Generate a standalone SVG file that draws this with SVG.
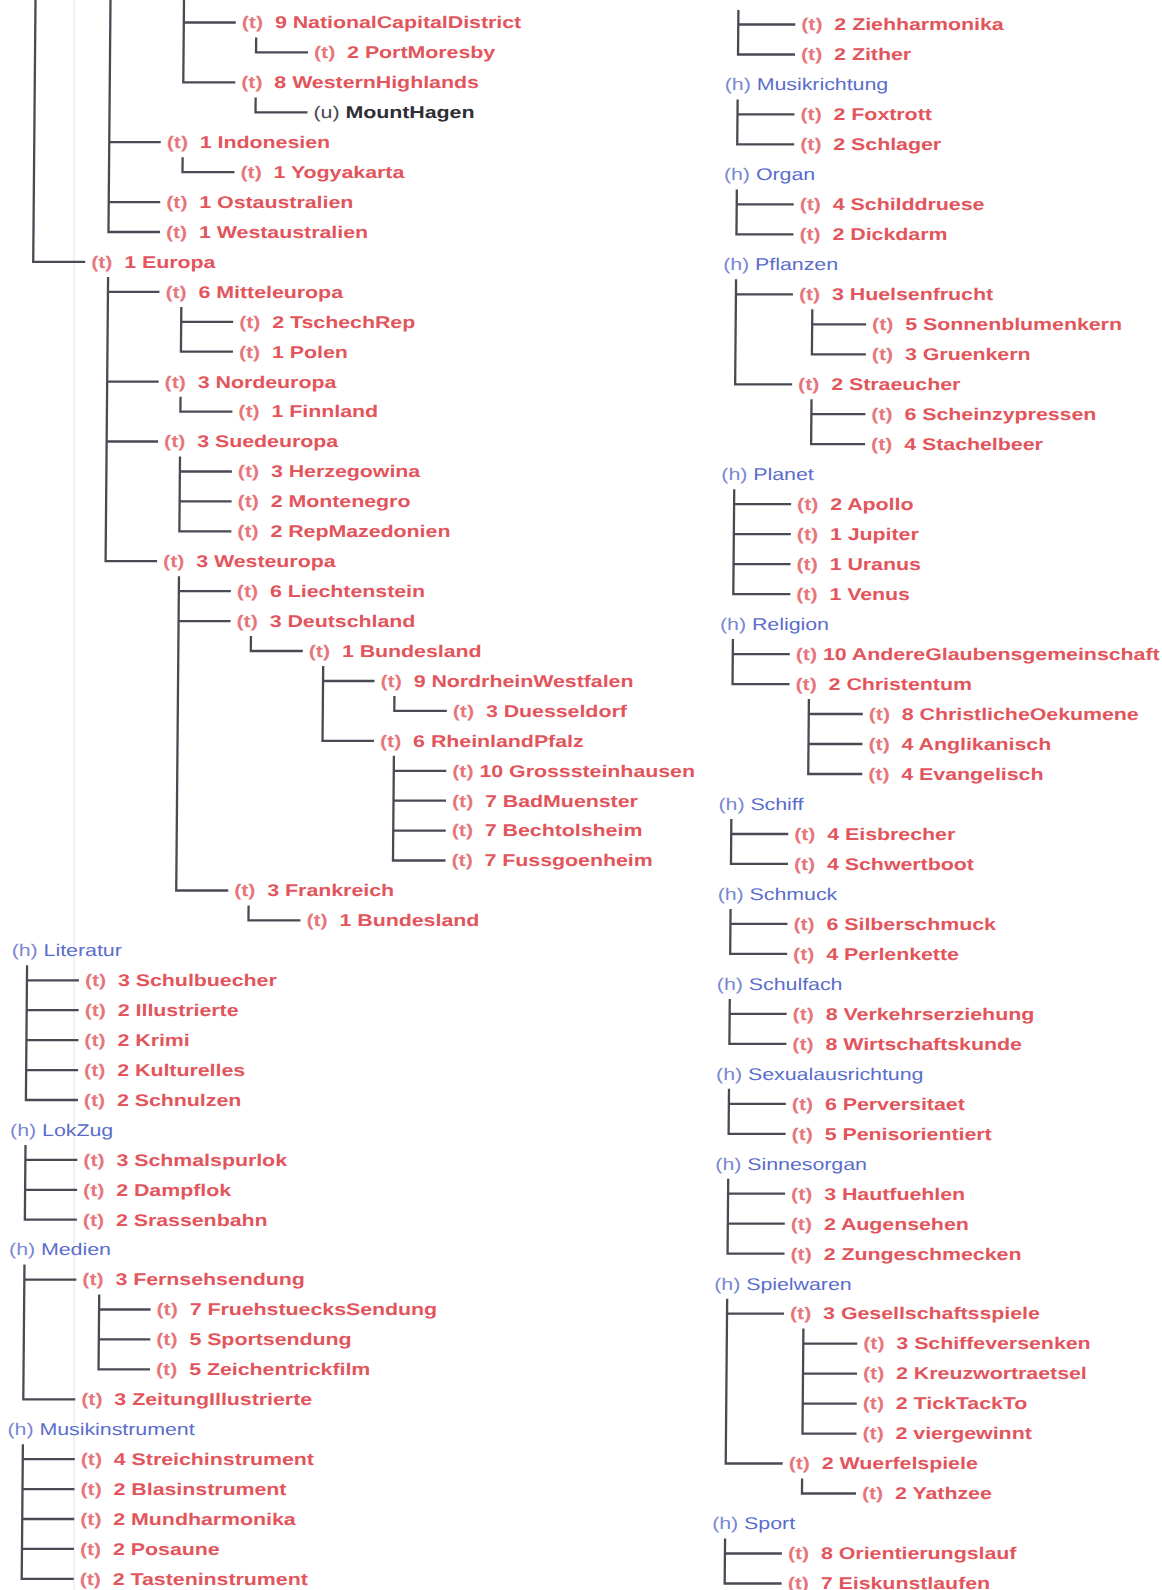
<svg xmlns="http://www.w3.org/2000/svg" width="1162" height="1590" viewBox="0 0 1162 1590" xml:space="preserve">
<style>
.c path{fill:none;stroke:#4a4a54;stroke-width:2.3}
text{font-family:"Liberation Sans",Arial,sans-serif;font-size:17px;transform:scale(1.255,1);white-space:pre}
.t text{font-weight:bold;fill:#e2555c}
.t .p{fill:#e6767c}
.h text{fill:#5a6dcb}
.h .p{fill:#7887d2}
.u text{font-weight:bold;fill:#2e2e33}
.u .p{font-weight:normal;fill:#4a4a50}
</style>
<rect width="1162" height="1590" fill="#ffffff"/>
<line x1="74" y1="0" x2="74" y2="1590" stroke="#e2e2ea" stroke-width="1"/>
<g transform="skewX(-0.5)">
<g id="connectors" class="c">
<path d="M35.5 0V261.9H87.5"/>
<path d="M110.5 0V232H162M110.5 142.2H162M110.5 202.1H162"/>
<path d="M184 0V82.4H236M184 22.5H236"/>
<path d="M256.5 37.5V52.4H308.5"/>
<path d="M256.5 97.4V112.3H308.5"/>
<path d="M184 157.2V172.2H236"/>
<path d="M110.5 276.9V561.2H162M110.5 291.9H162M110.5 381.7H162M110.5 441.5H162"/>
<path d="M184 306.9V351.7H236M184 321.8H236"/>
<path d="M184 396.7V411.6H236"/>
<path d="M184 456.5V531.3H236M184 471.5H236M184 501.4H236"/>
<path d="M184 576.2V890.5H236M184 591.2H236M184 621.1H236"/>
<path d="M256.5 636.1V651H308.5"/>
<path d="M329 666V740.8H380.5M329 681H380.5"/>
<path d="M400.5 696V710.9H453"/>
<path d="M400.5 755.8V860.5H453M400.5 770.8H453M400.5 800.7H453M400.5 830.6H453"/>
<path d="M256.5 905.5V920.4H308.5"/>
<path d="M35.5 965.3V1100H87.5M35.5 980.3H87.5M35.5 1010.2H87.5M35.5 1040.1H87.5M35.5 1070.1H87.5"/>
<path d="M35.5 1144.9V1219.7H87.5M35.5 1159.8H87.5M35.5 1189.8H87.5"/>
<path d="M35.5 1264.6V1399.3H87.5M35.5 1279.6H87.5"/>
<path d="M110.5 1294.6V1369.4H162M110.5 1309.5H162M110.5 1339.4H162"/>
<path d="M35.5 1444.2V1578.9H87.5M35.5 1459.1H87.5M35.5 1489.1H87.5M35.5 1519H87.5M35.5 1548.9H87.5"/>
<path d="M738.5 10V54.5H795.5M738.5 24.5H795.5"/>
<path d="M738.5 99.5V144.4H795.5M738.5 114.4H795.5"/>
<path d="M738.5 189.4V234.4H795.5M738.5 204.4H795.5"/>
<path d="M738.5 279.3V384.3H795.5M738.5 294.3H795.5"/>
<path d="M815 309.3V354.3H869M815 324.3H869"/>
<path d="M815 399.3V444.2H869M815 414.2H869"/>
<path d="M738.5 489.2V594.1H795.5M738.5 504.2H795.5M738.5 534.2H795.5M738.5 564.1H795.5"/>
<path d="M738.5 639.1V684.1H795.5M738.5 654.1H795.5"/>
<path d="M815 699.1V774H869M815 714H869M815 744H869"/>
<path d="M738.5 819V863.9H795.5M738.5 834H795.5"/>
<path d="M738.5 908.9V953.9H795.5M738.5 923.9H795.5"/>
<path d="M738.5 998.9V1043.8H795.5M738.5 1013.8H795.5"/>
<path d="M738.5 1088.8V1133.8H795.5M738.5 1103.8H795.5"/>
<path d="M738.5 1178.7V1253.7H795.5M738.5 1193.7H795.5M738.5 1223.7H795.5"/>
<path d="M738.5 1298.7V1463.5H795.5M738.5 1313.6H795.5"/>
<path d="M815 1328.6V1433.6H869M815 1343.6H869M815 1373.6H869M815 1403.6H869"/>
<path d="M815 1478.5V1493.5H869"/>
<path d="M738.5 1538.5V1583.5H795.5M738.5 1553.5H795.5"/>
</g>
<g id="l0" class="t" transform="translate(242,28.3)"><text><tspan class="p">(t)</tspan>  9 NationalCapitalDistrict</text></g>
<g id="l1" class="t" transform="translate(314.5,58.2)"><text><tspan class="p">(t)</tspan>  2 PortMoresby</text></g>
<g id="l2" class="t" transform="translate(242,88.2)"><text><tspan class="p">(t)</tspan>  8 WesternHighlands</text></g>
<g id="l3" class="u" transform="translate(314.5,118.1)"><text><tspan class="p">(u)</tspan> MountHagen</text></g>
<g id="l4" class="t" transform="translate(168,148)"><text><tspan class="p">(t)</tspan>  1 Indonesien</text></g>
<g id="l5" class="t" transform="translate(242,178)"><text><tspan class="p">(t)</tspan>  1 Yogyakarta</text></g>
<g id="l6" class="t" transform="translate(168,207.9)"><text><tspan class="p">(t)</tspan>  1 Ostaustralien</text></g>
<g id="l7" class="t" transform="translate(168,237.8)"><text><tspan class="p">(t)</tspan>  1 Westaustralien</text></g>
<g id="l8" class="t" transform="translate(93.5,267.7)"><text><tspan class="p">(t)</tspan>  1 Europa</text></g>
<g id="l9" class="t" transform="translate(168,297.7)"><text><tspan class="p">(t)</tspan>  6 Mitteleuropa</text></g>
<g id="l10" class="t" transform="translate(242,327.6)"><text><tspan class="p">(t)</tspan>  2 TschechRep</text></g>
<g id="l11" class="t" transform="translate(242,357.5)"><text><tspan class="p">(t)</tspan>  1 Polen</text></g>
<g id="l12" class="t" transform="translate(168,387.5)"><text><tspan class="p">(t)</tspan>  3 Nordeuropa</text></g>
<g id="l13" class="t" transform="translate(242,417.4)"><text><tspan class="p">(t)</tspan>  1 Finnland</text></g>
<g id="l14" class="t" transform="translate(168,447.3)"><text><tspan class="p">(t)</tspan>  3 Suedeuropa</text></g>
<g id="l15" class="t" transform="translate(242,477.3)"><text><tspan class="p">(t)</tspan>  3 Herzegowina</text></g>
<g id="l16" class="t" transform="translate(242,507.2)"><text><tspan class="p">(t)</tspan>  2 Montenegro</text></g>
<g id="l17" class="t" transform="translate(242,537.1)"><text><tspan class="p">(t)</tspan>  2 RepMazedonien</text></g>
<g id="l18" class="t" transform="translate(168,567)"><text><tspan class="p">(t)</tspan>  3 Westeuropa</text></g>
<g id="l19" class="t" transform="translate(242,597)"><text><tspan class="p">(t)</tspan>  6 Liechtenstein</text></g>
<g id="l20" class="t" transform="translate(242,626.9)"><text><tspan class="p">(t)</tspan>  3 Deutschland</text></g>
<g id="l21" class="t" transform="translate(314.5,656.8)"><text><tspan class="p">(t)</tspan>  1 Bundesland</text></g>
<g id="l22" class="t" transform="translate(386.5,686.8)"><text><tspan class="p">(t)</tspan>  9 NordrheinWestfalen</text></g>
<g id="l23" class="t" transform="translate(459,716.7)"><text><tspan class="p">(t)</tspan>  3 Duesseldorf</text></g>
<g id="l24" class="t" transform="translate(386.5,746.6)"><text><tspan class="p">(t)</tspan>  6 RheinlandPfalz</text></g>
<g id="l25" class="t" transform="translate(459,776.6)"><text><tspan class="p">(t)</tspan> 10 Grosssteinhausen</text></g>
<g id="l26" class="t" transform="translate(459,806.5)"><text><tspan class="p">(t)</tspan>  7 BadMuenster</text></g>
<g id="l27" class="t" transform="translate(459,836.4)"><text><tspan class="p">(t)</tspan>  7 Bechtolsheim</text></g>
<g id="l28" class="t" transform="translate(459,866.3)"><text><tspan class="p">(t)</tspan>  7 Fussgoenheim</text></g>
<g id="l29" class="t" transform="translate(242,896.3)"><text><tspan class="p">(t)</tspan>  3 Frankreich</text></g>
<g id="l30" class="t" transform="translate(314.5,926.2)"><text><tspan class="p">(t)</tspan>  1 Bundesland</text></g>
<g id="l31" class="h" transform="translate(20,956.1)"><text><tspan class="p">(h)</tspan> Literatur</text></g>
<g id="l32" class="t" transform="translate(93.5,986.1)"><text><tspan class="p">(t)</tspan>  3 Schulbuecher</text></g>
<g id="l33" class="t" transform="translate(93.5,1016)"><text><tspan class="p">(t)</tspan>  2 Illustrierte</text></g>
<g id="l34" class="t" transform="translate(93.5,1045.9)"><text><tspan class="p">(t)</tspan>  2 Krimi</text></g>
<g id="l35" class="t" transform="translate(93.5,1075.9)"><text><tspan class="p">(t)</tspan>  2 Kulturelles</text></g>
<g id="l36" class="t" transform="translate(93.5,1105.8)"><text><tspan class="p">(t)</tspan>  2 Schnulzen</text></g>
<g id="l37" class="h" transform="translate(20,1135.7)"><text><tspan class="p">(h)</tspan> LokZug</text></g>
<g id="l38" class="t" transform="translate(93.5,1165.6)"><text><tspan class="p">(t)</tspan>  3 Schmalspurlok</text></g>
<g id="l39" class="t" transform="translate(93.5,1195.6)"><text><tspan class="p">(t)</tspan>  2 Dampflok</text></g>
<g id="l40" class="t" transform="translate(93.5,1225.5)"><text><tspan class="p">(t)</tspan>  2 Srassenbahn</text></g>
<g id="l41" class="h" transform="translate(20,1255.4)"><text><tspan class="p">(h)</tspan> Medien</text></g>
<g id="l42" class="t" transform="translate(93.5,1285.4)"><text><tspan class="p">(t)</tspan>  3 Fernsehsendung</text></g>
<g id="l43" class="t" transform="translate(168,1315.3)"><text><tspan class="p">(t)</tspan>  7 FruehstuecksSendung</text></g>
<g id="l44" class="t" transform="translate(168,1345.2)"><text><tspan class="p">(t)</tspan>  5 Sportsendung</text></g>
<g id="l45" class="t" transform="translate(168,1375.2)"><text><tspan class="p">(t)</tspan>  5 Zeichentrickfilm</text></g>
<g id="l46" class="t" transform="translate(93.5,1405.1)"><text><tspan class="p">(t)</tspan>  3 ZeitungIllustrierte</text></g>
<g id="l47" class="h" transform="translate(20,1435)"><text><tspan class="p">(h)</tspan> Musikinstrument</text></g>
<g id="l48" class="t" transform="translate(93.5,1464.9)"><text><tspan class="p">(t)</tspan>  4 Streichinstrument</text></g>
<g id="l49" class="t" transform="translate(93.5,1494.9)"><text><tspan class="p">(t)</tspan>  2 Blasinstrument</text></g>
<g id="l50" class="t" transform="translate(93.5,1524.8)"><text><tspan class="p">(t)</tspan>  2 Mundharmonika</text></g>
<g id="l51" class="t" transform="translate(93.5,1554.7)"><text><tspan class="p">(t)</tspan>  2 Posaune</text></g>
<g id="l52" class="t" transform="translate(93.5,1584.7)"><text><tspan class="p">(t)</tspan>  2 Tasteninstrument</text></g>
<g id="r0" class="t" transform="translate(801.5,30.3)"><text><tspan class="p">(t)</tspan>  2 Ziehharmonika</text></g>
<g id="r1" class="t" transform="translate(801.5,60.3)"><text><tspan class="p">(t)</tspan>  2 Zither</text></g>
<g id="r2" class="h" transform="translate(725.5,90.3)"><text><tspan class="p">(h)</tspan> Musikrichtung</text></g>
<g id="r3" class="t" transform="translate(801.5,120.2)"><text><tspan class="p">(t)</tspan>  2 Foxtrott</text></g>
<g id="r4" class="t" transform="translate(801.5,150.2)"><text><tspan class="p">(t)</tspan>  2 Schlager</text></g>
<g id="r5" class="h" transform="translate(725.5,180.2)"><text><tspan class="p">(h)</tspan> Organ</text></g>
<g id="r6" class="t" transform="translate(801.5,210.2)"><text><tspan class="p">(t)</tspan>  4 Schilddruese</text></g>
<g id="r7" class="t" transform="translate(801.5,240.2)"><text><tspan class="p">(t)</tspan>  2 Dickdarm</text></g>
<g id="r8" class="h" transform="translate(725.5,270.1)"><text><tspan class="p">(h)</tspan> Pflanzen</text></g>
<g id="r9" class="t" transform="translate(801.5,300.1)"><text><tspan class="p">(t)</tspan>  3 Huelsenfrucht</text></g>
<g id="r10" class="t" transform="translate(875,330.1)"><text><tspan class="p">(t)</tspan>  5 Sonnenblumenkern</text></g>
<g id="r11" class="t" transform="translate(875,360.1)"><text><tspan class="p">(t)</tspan>  3 Gruenkern</text></g>
<g id="r12" class="t" transform="translate(801.5,390.1)"><text><tspan class="p">(t)</tspan>  2 Straeucher</text></g>
<g id="r13" class="t" transform="translate(875,420)"><text><tspan class="p">(t)</tspan>  6 Scheinzypressen</text></g>
<g id="r14" class="t" transform="translate(875,450)"><text><tspan class="p">(t)</tspan>  4 Stachelbeer</text></g>
<g id="r15" class="h" transform="translate(725.5,480)"><text><tspan class="p">(h)</tspan> Planet</text></g>
<g id="r16" class="t" transform="translate(801.5,510)"><text><tspan class="p">(t)</tspan>  2 Apollo</text></g>
<g id="r17" class="t" transform="translate(801.5,540)"><text><tspan class="p">(t)</tspan>  1 Jupiter</text></g>
<g id="r18" class="t" transform="translate(801.5,569.9)"><text><tspan class="p">(t)</tspan>  1 Uranus</text></g>
<g id="r19" class="t" transform="translate(801.5,599.9)"><text><tspan class="p">(t)</tspan>  1 Venus</text></g>
<g id="r20" class="h" transform="translate(725.5,629.9)"><text><tspan class="p">(h)</tspan> Religion</text></g>
<g id="r21" class="t" transform="translate(801.5,659.9)"><text><tspan class="p">(t)</tspan> 10 AndereGlaubensgemeinschaft</text></g>
<g id="r22" class="t" transform="translate(801.5,689.9)"><text><tspan class="p">(t)</tspan>  2 Christentum</text></g>
<g id="r23" class="t" transform="translate(875,719.8)"><text><tspan class="p">(t)</tspan>  8 ChristlicheOekumene</text></g>
<g id="r24" class="t" transform="translate(875,749.8)"><text><tspan class="p">(t)</tspan>  4 Anglikanisch</text></g>
<g id="r25" class="t" transform="translate(875,779.8)"><text><tspan class="p">(t)</tspan>  4 Evangelisch</text></g>
<g id="r26" class="h" transform="translate(725.5,809.8)"><text><tspan class="p">(h)</tspan> Schiff</text></g>
<g id="r27" class="t" transform="translate(801.5,839.8)"><text><tspan class="p">(t)</tspan>  4 Eisbrecher</text></g>
<g id="r28" class="t" transform="translate(801.5,869.7)"><text><tspan class="p">(t)</tspan>  4 Schwertboot</text></g>
<g id="r29" class="h" transform="translate(725.5,899.7)"><text><tspan class="p">(h)</tspan> Schmuck</text></g>
<g id="r30" class="t" transform="translate(801.5,929.7)"><text><tspan class="p">(t)</tspan>  6 Silberschmuck</text></g>
<g id="r31" class="t" transform="translate(801.5,959.7)"><text><tspan class="p">(t)</tspan>  4 Perlenkette</text></g>
<g id="r32" class="h" transform="translate(725.5,989.7)"><text><tspan class="p">(h)</tspan> Schulfach</text></g>
<g id="r33" class="t" transform="translate(801.5,1019.6)"><text><tspan class="p">(t)</tspan>  8 Verkehrserziehung</text></g>
<g id="r34" class="t" transform="translate(801.5,1049.6)"><text><tspan class="p">(t)</tspan>  8 Wirtschaftskunde</text></g>
<g id="r35" class="h" transform="translate(725.5,1079.6)"><text><tspan class="p">(h)</tspan> Sexualausrichtung</text></g>
<g id="r36" class="t" transform="translate(801.5,1109.6)"><text><tspan class="p">(t)</tspan>  6 Perversitaet</text></g>
<g id="r37" class="t" transform="translate(801.5,1139.6)"><text><tspan class="p">(t)</tspan>  5 Penisorientiert</text></g>
<g id="r38" class="h" transform="translate(725.5,1169.5)"><text><tspan class="p">(h)</tspan> Sinnesorgan</text></g>
<g id="r39" class="t" transform="translate(801.5,1199.5)"><text><tspan class="p">(t)</tspan>  3 Hautfuehlen</text></g>
<g id="r40" class="t" transform="translate(801.5,1229.5)"><text><tspan class="p">(t)</tspan>  2 Augensehen</text></g>
<g id="r41" class="t" transform="translate(801.5,1259.5)"><text><tspan class="p">(t)</tspan>  2 Zungeschmecken</text></g>
<g id="r42" class="h" transform="translate(725.5,1289.5)"><text><tspan class="p">(h)</tspan> Spielwaren</text></g>
<g id="r43" class="t" transform="translate(801.5,1319.4)"><text><tspan class="p">(t)</tspan>  3 Gesellschaftsspiele</text></g>
<g id="r44" class="t" transform="translate(875,1349.4)"><text><tspan class="p">(t)</tspan>  3 Schiffeversenken</text></g>
<g id="r45" class="t" transform="translate(875,1379.4)"><text><tspan class="p">(t)</tspan>  2 Kreuzwortraetsel</text></g>
<g id="r46" class="t" transform="translate(875,1409.4)"><text><tspan class="p">(t)</tspan>  2 TickTackTo</text></g>
<g id="r47" class="t" transform="translate(875,1439.4)"><text><tspan class="p">(t)</tspan>  2 viergewinnt</text></g>
<g id="r48" class="t" transform="translate(801.5,1469.3)"><text><tspan class="p">(t)</tspan>  2 Wuerfelspiele</text></g>
<g id="r49" class="t" transform="translate(875,1499.3)"><text><tspan class="p">(t)</tspan>  2 Yathzee</text></g>
<g id="r50" class="h" transform="translate(725.5,1529.3)"><text><tspan class="p">(h)</tspan> Sport</text></g>
<g id="r51" class="t" transform="translate(801.5,1559.3)"><text><tspan class="p">(t)</tspan>  8 Orientierungslauf</text></g>
<g id="r52" class="t" transform="translate(801.5,1589.3)"><text><tspan class="p">(t)</tspan>  7 Eiskunstlaufen</text></g>
</g>
</svg>
